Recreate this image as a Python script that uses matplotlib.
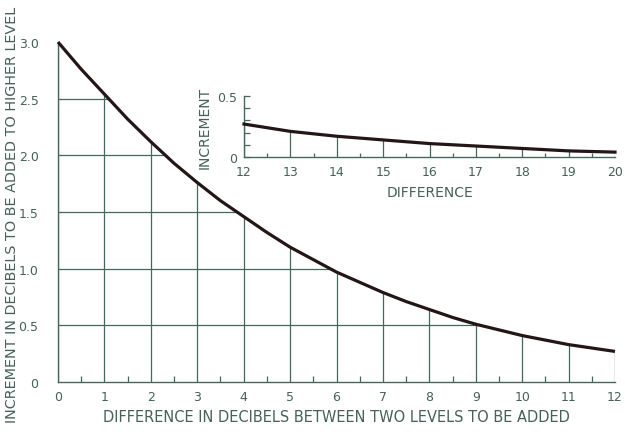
import matplotlib.pyplot as plt
import numpy as np

# main curve: difference (dB) vs increment (dB)
diff = [0, 0.5, 1, 1.5, 2, 2.5, 3, 3.5, 4, 4.5, 5, 5.5, 6,
        6.5, 7, 7.5, 8, 8.5, 9, 9.5, 10, 10.5, 11, 11.5, 12]
incr = [3.0, 2.76, 2.54, 2.32, 2.12, 1.93, 1.76, 1.60, 1.46, 1.32, 1.19, 1.08, 0.97,
        0.88, 0.79, 0.71, 0.64, 0.57, 0.51, 0.46, 0.41, 0.37, 0.33, 0.30, 0.27]

# inset curve
diff_hi = [12, 13, 14, 15, 16, 17, 18, 19, 20]
incr_hi = [0.27, 0.21, 0.17, 0.14, 0.11, 0.09, 0.07, 0.05, 0.04]

x_ticks = list(range(0, 13))
y_ticks = [0, 0.5, 1.0, 1.5, 2.0, 2.5, 3.0]
y_tick_labels = ['0', '0.5', '1.0', '1.5', '2.0', '2.5', '3.0']
x_ticks_hi = list(range(12, 21))

grid_c = '#46685c'
text_c = '#46605a'
curve_c = '#241616'

fig = plt.figure(figsize=(6.25, 4.35), dpi=100)
fig.patch.set_facecolor('white')

ax = fig.add_axes([0.0928, 0.1195, 0.8912, 0.7816])
ax.set_xlim(0, 12)
ax.set_ylim(0, 3.0)

# grid only below the curve
for xi in x_ticks:
    yi = np.interp(xi, diff, incr)
    ax.plot([xi, xi], [0, yi], color=grid_c, lw=0.9, zorder=1)
for yv in y_ticks[1:-1]:
    xc = np.interp(yv, incr[::-1], diff[::-1])
    ax.plot([0, xc], [yv, yv], color=grid_c, lw=0.9, zorder=1)

ax.plot(diff, incr, color=curve_c, lw=2.3, zorder=3, clip_on=False,
        solid_capstyle='butt', solid_joinstyle='round')

for s in ['top', 'right']:
    ax.spines[s].set_visible(False)
for s in ['left', 'bottom']:
    ax.spines[s].set_color(grid_c)
    ax.spines[s].set_linewidth(1.0)

ax.set_xticks(x_ticks)
ax.set_xticks(np.arange(0.5, 12, 1), minor=True)
ax.set_yticks(y_ticks)
ax.set_yticklabels(y_tick_labels)
ax.tick_params(axis='x', which='major', length=0, pad=6, labelsize=9, labelcolor=text_c)
ax.tick_params(axis='x', which='minor', direction='in', length=4, color=grid_c, width=0.9)
ax.tick_params(axis='y', length=0, pad=14, labelsize=9, labelcolor=text_c)
ax.set_xlabel('DIFFERENCE IN DECIBELS BETWEEN TWO LEVELS TO BE ADDED',
              fontsize=10.5, color=text_c, labelpad=4)

fig.text(0.019, 0.505, 'INCREMENT IN DECIBELS TO BE ADDED TO HIGHER LEVEL',
         rotation=90, ha='center', va='center', fontsize=10.4, color=text_c)

# inset
axi = fig.add_axes([0.3904, 0.6368, 0.5936, 0.1402])
axi.set_xlim(12, 20)
axi.set_ylim(0, 0.5)
for xi in x_ticks_hi:
    yi = np.interp(xi, diff_hi, incr_hi)
    axi.plot([xi, xi], [0, yi], color=grid_c, lw=0.9, zorder=1)
axi.plot(diff_hi, incr_hi, color=curve_c, lw=2.3, zorder=3, clip_on=False,
         solid_joinstyle='round')
for s in ['top', 'right']:
    axi.spines[s].set_visible(False)
for s in ['left', 'bottom']:
    axi.spines[s].set_color(grid_c)
    axi.spines[s].set_linewidth(1.0)
axi.set_xticks(x_ticks_hi)
axi.set_xticks(np.arange(12.5, 20, 1), minor=True)
axi.set_yticks([0, 0.5])
axi.set_yticklabels(['0', '0.5'])
axi.set_yticks([0.1, 0.2, 0.3, 0.4], minor=True)
axi.tick_params(axis='x', which='major', length=0, pad=6, labelsize=9, labelcolor=text_c)
axi.tick_params(axis='x', which='minor', direction='in', length=3, color=grid_c, width=0.9)
axi.tick_params(axis='y', which='major', direction='in', length=4, color=grid_c,
                width=0.9, pad=5, labelsize=9, labelcolor=text_c)
axi.tick_params(axis='y', which='minor', direction='in', length=4, color=grid_c, width=0.9)
axi.set_xlabel('DIFFERENCE', fontsize=10, color=text_c, labelpad=5)
axi.set_ylabel('INCREMENT', fontsize=10, color=text_c, labelpad=4)
axi.patch.set_alpha(0)

fig.savefig('out.png', dpi=100, facecolor='white')
